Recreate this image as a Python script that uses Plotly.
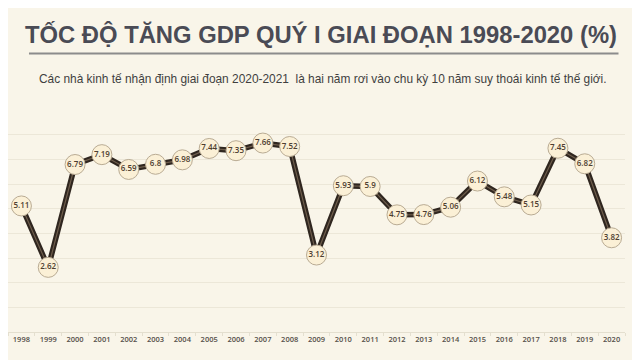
import plotly.graph_objects as go

years = [str(y) for y in range(1998, 2021)]
growth = [5.11, 2.62, 6.79, 7.19, 6.59, 6.8, 6.98, 7.44, 7.35, 7.66, 7.52,
          3.12, 5.93, 5.9, 4.75, 4.76, 5.06, 6.12, 5.48, 5.15, 7.45, 6.82, 3.82]
labels = [f"{v:g}" for v in growth]

title_text = "TỐC ĐỘ TĂNG GDP QUÝ I GIAI ĐOẠN 1998-2020 (%)"
subtitle_text = "Các nhà kinh tế nhận định giai đoạn 2020-2021  là hai năm rơi vào chu kỳ 10 năm suy thoái kinh tế thế giới."

BG = "#f9f5e9"
W, H = 640, 360
L, R, T, B = 0, 22.5, 102, 36
pw, ph = W - L - R, H - T - B

def px(x):
    return (x - L) / pw

def py(y):
    return (H - B - y) / ph

fig = go.Figure()
fig.add_trace(go.Scatter(x=years, y=growth, mode="lines",
                         line=dict(color="#2f261f", width=5.5),
                         hoverinfo="skip", showlegend=False))
fig.add_trace(go.Scatter(x=years, y=growth, mode="lines",
                         line=dict(color="#6e5d4c", width=1.2),
                         hoverinfo="skip", showlegend=False))
fig.add_trace(go.Scatter(x=years, y=growth, mode="markers+text",
                         text=labels, textposition="middle center",
                         textfont=dict(family="Open Sans", size=8, color="#4e3e30", weight=600),
                         marker=dict(size=20, color="#fbf0d6",
                                     line=dict(color="#b9ab93", width=1)),
                         showlegend=False))

fig.add_annotation(x=px(313), y=py(27), xref="paper", yref="paper",
                   text=f"<b>{title_text}</b>", showarrow=False,
                   xanchor="center", yanchor="middle",
                   font=dict(family="Liberation Sans", size=23.8, color="#4a4b55"))
fig.add_shape(type="line", xref="paper", yref="paper",
              x0=px(21), x1=px(611), y0=py(45.5), y1=py(45.5),
              line=dict(color="#8c8c8c", width=2))
fig.add_annotation(x=px(315), y=py(71), xref="paper", yref="paper",
                   text=subtitle_text, showarrow=False,
                   xanchor="center", yanchor="middle",
                   font=dict(family="Liberation Sans", size=11.9, color="#3f3f3f"))

fig.update_layout(
    width=W, height=H,
    margin=dict(l=L, r=R, t=T, b=B, pad=0),
    paper_bgcolor=BG, plot_bgcolor=BG,
    xaxis=dict(type="category", range=[-0.5, 22.5], tickangle=0, automargin=False,
               showgrid=False, showline=True, linecolor="#e4dfcf", linewidth=1,
               ticks="outside", tickson="boundaries", ticklen=3, tickcolor="#e4dfcf",
               tickfont=dict(family="Open Sans", size=7.5, color="#55504a", weight=600),
               fixedrange=True),
    yaxis=dict(range=[0, 9], dtick=1, showgrid=True, gridcolor="#ece7d8", automargin=False,
               gridwidth=1, zeroline=False, showticklabels=False, fixedrange=True),
)

fig.write_html("out.html")
